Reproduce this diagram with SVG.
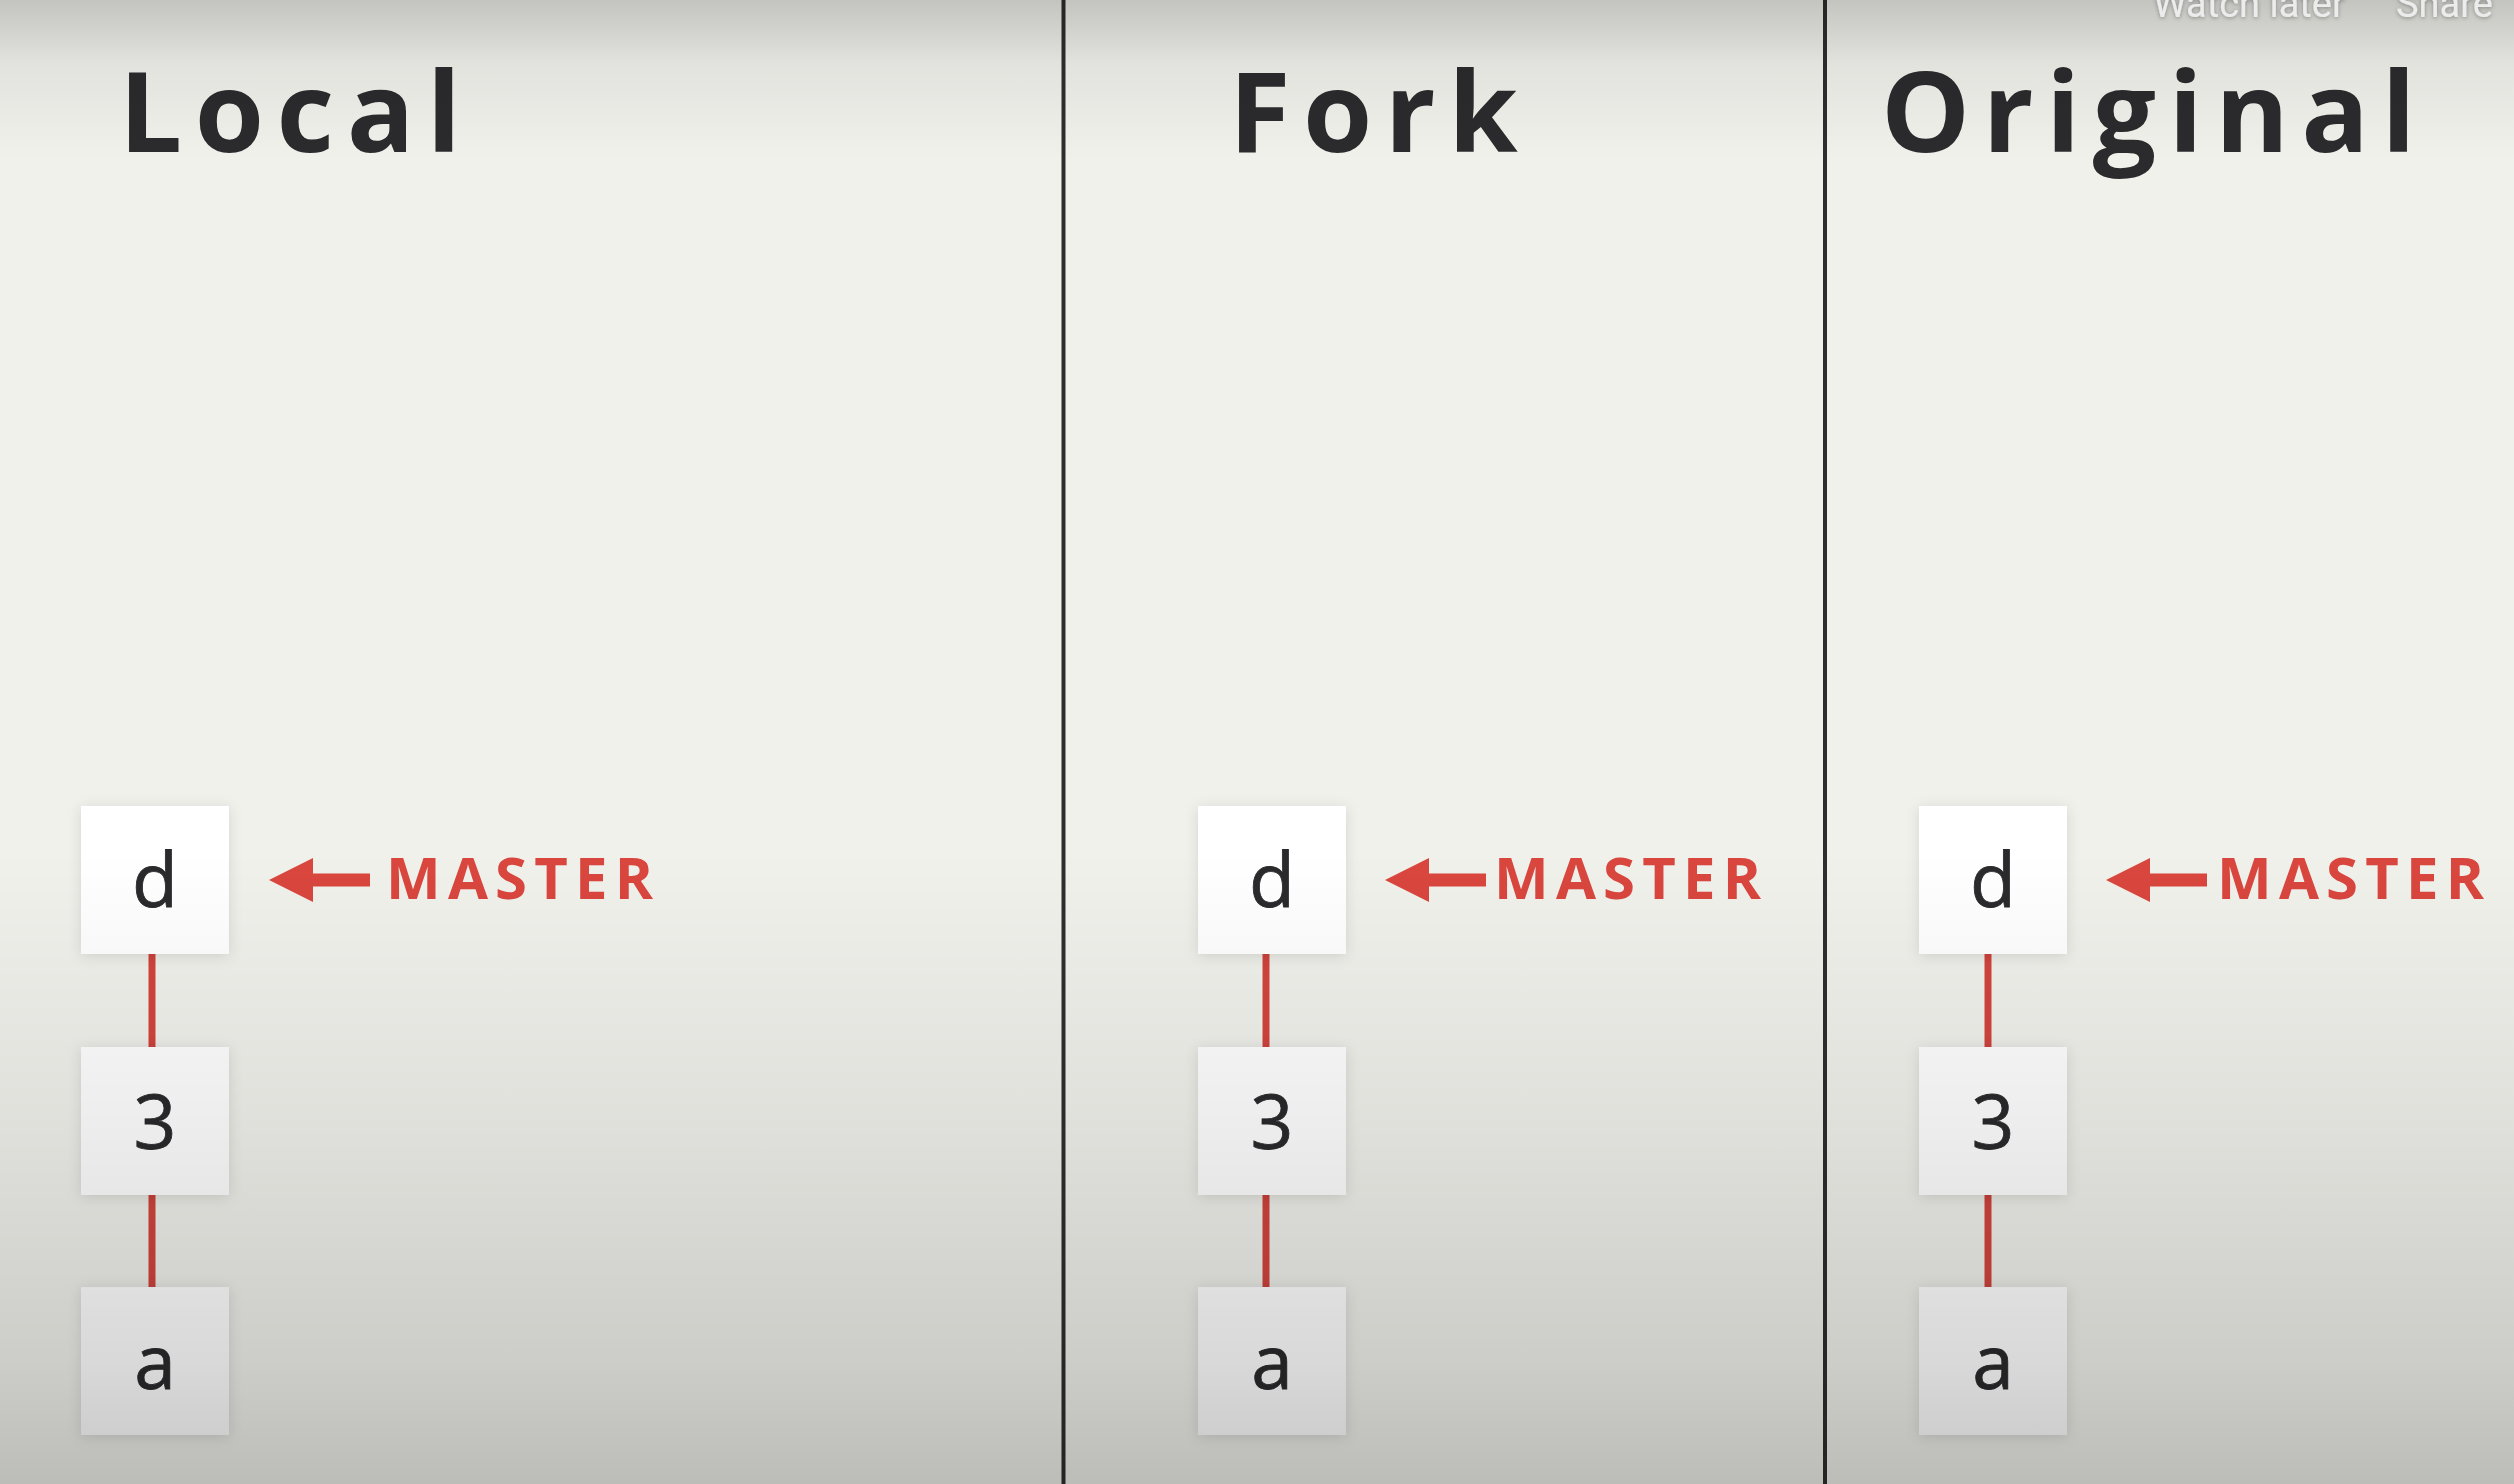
<svg xmlns="http://www.w3.org/2000/svg" width="2514" height="1484" viewBox="0 0 2514 1484">
<style>
.title{font-family:"Open Sans","Noto Sans",sans-serif;font-weight:700;font-size:112px;letter-spacing:12.5px;fill:#2b2b2e}
.box{stroke:none}
.lbl{font-family:"Open Sans","Noto Sans",sans-serif;font-weight:400;font-size:75px;fill:#2a2a2c;text-anchor:middle;stroke:#2a2a2c;stroke-width:0.8px}
.master{font-family:"Open Sans","Noto Sans",sans-serif;font-weight:700;font-size:58px;letter-spacing:7.2px;fill:#d9463e}
.edge{stroke:#d2443d;stroke-width:7}
.div{stroke:#2e2e2e;stroke-width:4}
.yt{font-family:Roboto,"Liberation Sans",sans-serif;font-size:38px;fill:#ececec}
</style>
<defs>
<linearGradient id="bot" x1="0" y1="0" x2="0" y2="1484" gradientUnits="userSpaceOnUse">
<stop offset="0" stop-color="#000" stop-opacity="0"/>
<stop offset="0.573" stop-color="#000" stop-opacity="0"/>
<stop offset="0.755" stop-color="#000" stop-opacity="0.07"/>
<stop offset="0.917" stop-color="#000" stop-opacity="0.15"/>
<stop offset="1" stop-color="#000" stop-opacity="0.22"/>
</linearGradient>
<linearGradient id="top" x1="0" y1="0" x2="0" y2="160" gradientUnits="userSpaceOnUse">
<stop offset="0" stop-color="#000" stop-opacity="0.19"/>
<stop offset="0.4" stop-color="#000" stop-opacity="0.06"/>
<stop offset="1" stop-color="#000" stop-opacity="0"/>
</linearGradient>
<filter id="sh" x="-20%" y="-20%" width="140%" height="140%">
<feDropShadow dx="0" dy="2" stdDeviation="7" flood-color="#000" flood-opacity="0.12"/>
</filter>
<filter id="tsh" x="-10%" y="-50%" width="120%" height="200%">
<feDropShadow dx="0" dy="1" stdDeviation="2" flood-color="#000" flood-opacity="0.35"/>
</filter>
<path id="arrow" d="M0 0 L44 -22 L44 -6.5 L101 -6.5 L101 6.5 L44 6.5 L44 22 Z"/>
</defs>
<rect width="2514" height="1484" fill="#f1f1ec"/>

<g id="dividers">
<line class="div" x1="1063.5" y1="0" x2="1063.5" y2="1484"/>
<line class="div" x1="1825" y1="0" x2="1825" y2="1484"/>
</g>

<g id="titles">
<text class="title" x="119" y="152">Local</text>
<text class="title" x="1229" y="152">Fork</text>
<text class="title" x="1881" y="152">Original</text>
</g>

<g id="connectors">
<line class="edge" x1="152" y1="954" x2="152" y2="1047"/>
<line class="edge" x1="152" y1="1194" x2="152" y2="1287"/>
<line class="edge" x1="1266" y1="954" x2="1266" y2="1047"/>
<line class="edge" x1="1266" y1="1194" x2="1266" y2="1287"/>
<line class="edge" x1="1988" y1="954" x2="1988" y2="1047"/>
<line class="edge" x1="1988" y1="1194" x2="1988" y2="1287"/>
</g>

<g id="local-d"><rect class="box" x="81" y="806" width="148" height="148" fill="#fff" filter="url(#sh)"/><text class="lbl" x="155" y="907">d</text></g>
<g id="local-3"><rect class="box" x="81" y="1047" width="148" height="148" fill="#fff" filter="url(#sh)"/><text class="lbl" x="155" y="1149">3</text></g>
<g id="local-a"><rect class="box" x="81" y="1287" width="148" height="148" fill="#fff" filter="url(#sh)"/><text class="lbl" x="155" y="1389">a</text></g>

<g id="fork-d"><rect class="box" x="1198" y="806" width="148" height="148" fill="#fff" filter="url(#sh)"/><text class="lbl" x="1272" y="907">d</text></g>
<g id="fork-3"><rect class="box" x="1198" y="1047" width="148" height="148" fill="#fff" filter="url(#sh)"/><text class="lbl" x="1272" y="1149">3</text></g>
<g id="fork-a"><rect class="box" x="1198" y="1287" width="148" height="148" fill="#fff" filter="url(#sh)"/><text class="lbl" x="1272" y="1389">a</text></g>

<g id="orig-d"><rect class="box" x="1919" y="806" width="148" height="148" fill="#fff" filter="url(#sh)"/><text class="lbl" x="1993" y="907">d</text></g>
<g id="orig-3"><rect class="box" x="1919" y="1047" width="148" height="148" fill="#fff" filter="url(#sh)"/><text class="lbl" x="1993" y="1149">3</text></g>
<g id="orig-a"><rect class="box" x="1919" y="1287" width="148" height="148" fill="#fff" filter="url(#sh)"/><text class="lbl" x="1993" y="1389">a</text></g>

<g id="local-master"><use href="#arrow" x="269" y="880" fill="#d9463e"/><text class="master" x="386" y="899">MASTER</text></g>
<g id="fork-master"><use href="#arrow" x="1385" y="880" fill="#d9463e"/><text class="master" x="1494" y="899">MASTER</text></g>
<g id="orig-master"><use href="#arrow" x="2106" y="880" fill="#d9463e"/><text class="master" x="2217" y="899">MASTER</text></g>

<rect width="2514" height="1484" fill="url(#bot)"/>
<rect width="2514" height="160" fill="url(#top)"/>

<g id="player-labels" filter="url(#tsh)">
<text class="yt" x="2153" y="17">Watch later</text>
<text class="yt" x="2396" y="17">Share</text>
</g>
</svg>
